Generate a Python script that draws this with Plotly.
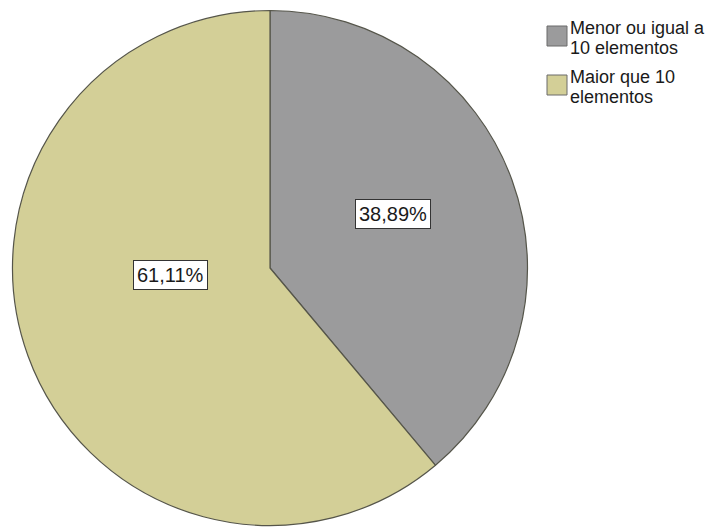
import plotly.graph_objects as go

# Share of groups by size
categories = ["Menor ou igual a 10 elementos", "Maior que 10 elementos"]
legend_lines = [["Menor ou igual a", "10 elementos"], ["Maior que 10", "elementos"]]
percentages = [38.89, 61.11]
colors = ["#9b9b9c", "#d3cf97"]

W, H = 728, 527


def px(x):
    return x / W


def py(y):
    return 1 - y / H


# pie geometry (pixels)
cx, cy, r = 270, 268, 257.5

fig = go.Figure(
    go.Pie(
        labels=categories,
        values=percentages,
        sort=False,
        direction="clockwise",
        rotation=0,
        marker=dict(colors=colors, line=dict(color="#55554a", width=1.2)),
        textinfo="none",
        hoverinfo="label+percent",
        showlegend=False,
        domain=dict(x=[px(cx - r), px(cx + r)], y=[py(cy + r), py(cy - r)]),
    )
)

annotations = []
shapes = []

# boxed percentage labels inside the slices
label_centres = [(393, 214), (170, 275)]
for val, (lx, ly) in zip(percentages, label_centres):
    annotations.append(
        dict(
            x=px(lx), y=py(ly), xref="paper", yref="paper",
            text=f"{val:.2f}%".replace(".", ","),
            showarrow=False,
            font=dict(family="Liberation Sans, Arial", size=20, color="#1a1a1a"),
            bgcolor="white", bordercolor="#333333", borderwidth=1, borderpad=3,
            xanchor="center", yanchor="middle",
        )
    )

# legend: colour swatch + two text lines per category
swatch_top = [26, 75]
line_centre = [28, 77]
line_gap = 20
for col, lines, top, lc in zip(colors, legend_lines, swatch_top, line_centre):
    shapes.append(
        dict(
            type="rect", xref="paper", yref="paper",
            x0=px(547), x1=px(567), y0=py(top), y1=py(top + 20),
            fillcolor=col, line=dict(color="#6a6a6a", width=1),
        )
    )
    for i, txt in enumerate(lines):
        annotations.append(
            dict(
                x=px(569), y=py(lc + i * line_gap), xref="paper", yref="paper",
                text=txt, showarrow=False,
                font=dict(family="Liberation Sans, Arial", size=18, color="#1a1a1a"),
                xanchor="left", yanchor="middle", borderpad=0,
            )
        )

fig.update_layout(
    width=W, height=H,
    margin=dict(l=0, r=0, t=0, b=0),
    paper_bgcolor="white",
    plot_bgcolor="white",
    annotations=annotations,
    shapes=shapes,
)

fig.write_html("out.html")
